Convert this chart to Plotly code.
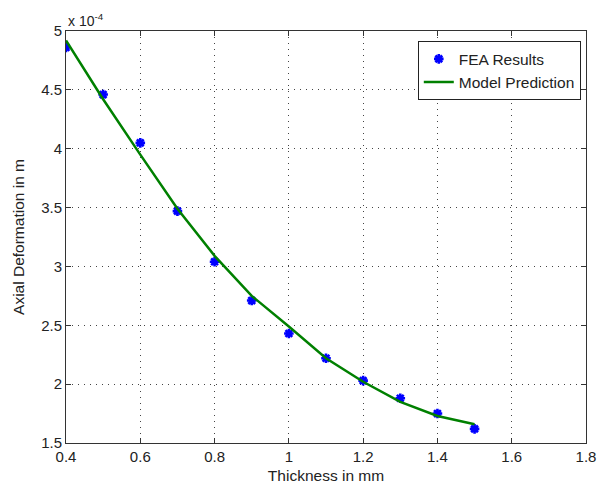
import plotly.graph_objects as go

# Plate thickness (mm) and axial deformation (m)
thickness_mm = [0.4, 0.5, 0.6, 0.7, 0.8, 0.9, 1.0, 1.1, 1.2, 1.3, 1.4, 1.5]
fea_deformation = [4.86e-4, 4.46e-4, 4.05e-4, 3.47e-4, 3.04e-4, 2.71e-4,
                   2.43e-4, 2.22e-4, 2.03e-4, 1.88e-4, 1.75e-4, 1.62e-4]
model_deformation = [4.92e-4, 4.42e-4, 3.95e-4, 3.49e-4, 3.09e-4, 2.75e-4,
                     2.49e-4, 2.22e-4, 2.02e-4, 1.85e-4, 1.73e-4, 1.66e-4]

x_ticks = [0.4, 0.6, 0.8, 1.0, 1.2, 1.4, 1.6, 1.8]
x_tick_text = ["0.4", "0.6", "0.8", "1", "1.2", "1.4", "1.6", "1.8"]
y_ticks = [1.5e-4, 2e-4, 2.5e-4, 3e-4, 3.5e-4, 4e-4, 4.5e-4, 5e-4]
y_tick_text = ["1.5", "2", "2.5", "3", "3.5", "4", "4.5", "5"]

FONT = "Liberation Sans, Arial, sans-serif"
TEXT_COLOR = "#222222"
AXIS_COLOR = "#333333"

fig = go.Figure()
fig.add_trace(go.Scatter(
    x=thickness_mm, y=fea_deformation, mode="markers", name="FEA Results",
    marker=dict(symbol="asterisk-open", size=8, color="#0000ff",
                line=dict(color="#0000ff", width=2.6)),
))
fig.add_trace(go.Scatter(
    x=thickness_mm, y=model_deformation, mode="lines", name="Model Prediction",
    line=dict(color="#008000", width=2.5),
))

axis_common = dict(
    showline=True, linecolor=AXIS_COLOR, linewidth=1, mirror="ticks",
    ticks="inside", ticklen=5, tickcolor=AXIS_COLOR,
    showgrid=True, gridcolor="#444444", griddash="1px,5px", gridwidth=1,
    zeroline=False, automargin=False,
    tickfont=dict(family=FONT, size=15, color=TEXT_COLOR),
)

fig.update_xaxes(
    range=[0.4, 1.8], tickvals=x_ticks, ticktext=x_tick_text,
    title=dict(text="Thickness in mm", font=dict(family=FONT, size=15.5, color=TEXT_COLOR),
               standoff=6),
    **axis_common,
)
fig.update_yaxes(
    range=[1.5e-4, 5e-4], tickvals=y_ticks, ticktext=y_tick_text,
    title=dict(text="Axial Deformation in m", font=dict(family=FONT, size=15.5, color=TEXT_COLOR),
               standoff=12),
    **axis_common,
)

fig.add_annotation(
    x=0, y=1, xref="paper", yref="paper", xanchor="left", yanchor="bottom",
    text="x 10<sup>-4</sup>", showarrow=False,
    font=dict(family=FONT, size=14, color=TEXT_COLOR),
)

fig.update_layout(
    width=603, height=488,
    margin=dict(l=66, r=17, t=31, b=45),
    paper_bgcolor="white", plot_bgcolor="white",
    showlegend=True,
    legend=dict(
        x=0.99, y=0.975, xanchor="right", yanchor="top",
        bgcolor="white", bordercolor="#222222", borderwidth=1,
        font=dict(family=FONT, size=15.5, color=TEXT_COLOR),
        tracegroupgap=0,
    ),
)

fig.write_html("out.html")
